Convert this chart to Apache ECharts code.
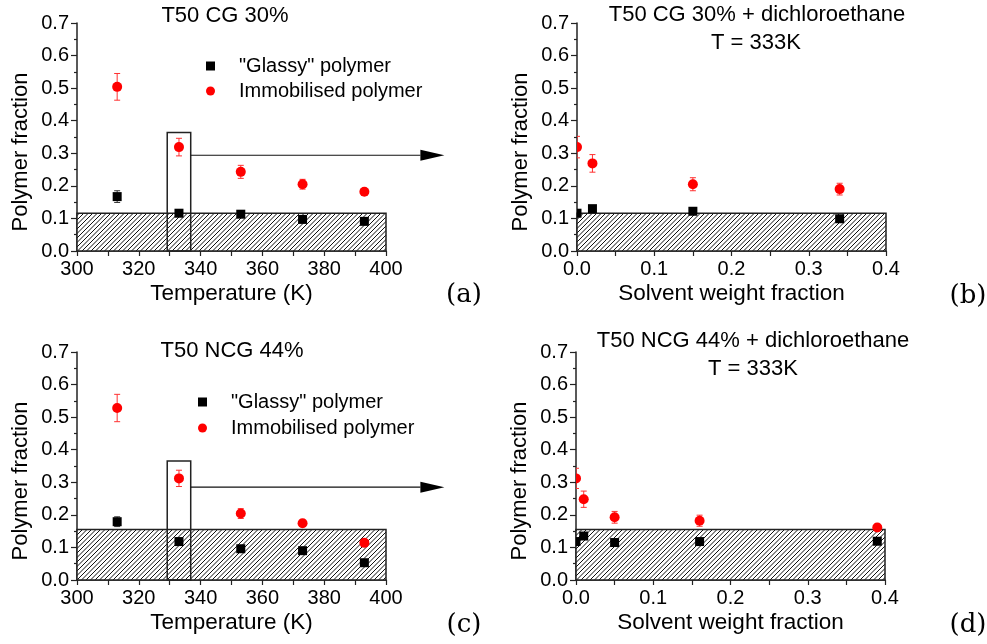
<!DOCTYPE html>
<html>
<head>
<meta charset="utf-8">
<script src="https://cdn.jsdelivr.net/npm/echarts@6/dist/echarts.min.js"></script>
<style>
  html, body { margin: 0; padding: 0; background: #fff; }
  #chart { width: 987px; height: 644px; }
</style>
</head>
<body>
<div id="chart"></div>
<script>
// panel (a): T50 CG 30% vs temperature
const tempsK = [313, 333, 353, 373, 393];
const glassyA = [0.167, 0.116, 0.113, 0.097, 0.091];
const glassyErrA = [0.018, 0.005, 0.005, 0.005, 0.005];
const immobA = [0.504, 0.319, 0.243, 0.205, 0.182];
const immobErrA = [0.041, 0.027, 0.02, 0.015, 0.01];

// panel (b): T50 CG 30% + dichloroethane
const solventB = [0, 0.02, 0.15, 0.34];
const glassyB = [0.116, 0.130, 0.122, 0.099];
const glassyErrB = [0.005, 0.008, 0.005, 0.005];
const immobB = [0.319, 0.269, 0.205, 0.190];
const immobErrB = [0.033, 0.027, 0.02, 0.018];

// panel (c): T50 NCG 44% vs temperature
const glassyC = [0.179, 0.118, 0.096, 0.090, 0.053];
const glassyErrC = [0.015, 0.005, 0.005, 0.005, 0.005];
const immobC = [0.528, 0.312, 0.204, 0.174, 0.114];
const immobErrC = [0.042, 0.025, 0.015, 0.01, 0.008];

// panel (d): T50 NCG 44% + dichloroethane
const solventD = [0, 0.01, 0.05, 0.16, 0.39];
const glassyD = [0.118, 0.135, 0.115, 0.118, 0.119];
const glassyErrD = [0.005, 0.008, 0.005, 0.005, 0.005];
const immobD = [0.312, 0.248, 0.1925, 0.182, 0.161];
const immobErrD = [0.031, 0.025, 0.018, 0.017, 0.01];

// hatched band [x0, x1, top], zoom box [x0, x1, top], arrow [x0, tip, y]
const bandA = [300, 400, 0.116];
const bandB = [0, 0.4, 0.116];
const bandC = [300, 400, 0.155];
const bandD = [0, 0.4, 0.155];
const boxA = [329.2, 336.8, 0.364];
const boxC = [329.2, 336.8, 0.365];
const arrowA = [336.8, 418.9, 0.294];
const arrowC = [336.8, 418.9, 0.285];

const tempTicks = { min: 300, max: 400, interval: 20 };
const solvTicks = { min: 0, max: 0.4, interval: 0.1 };
const fracTicks = { min: 0, max: 0.7, interval: 0.1 };

const GLASSY = '"Glassy" polymer';
const IMMOB = 'Immobilised polymer';
const FONT = '"Liberation Sans", Arial, sans-serif';

function makeHatch() {
  const c = document.createElement('canvas');
  c.width = 9; c.height = 9;
  const ctx = c.getContext('2d');
  ctx.fillStyle = '#fff';
  ctx.fillRect(0, 0, 9, 9);
  ctx.strokeStyle = '#111';
  ctx.lineWidth = 1;
  ctx.beginPath();
  for (const off of [-9, -4.5, 0, 4.5, 9]) {
    ctx.moveTo(off, 9);
    ctx.lineTo(off + 9, 0);
  }
  ctx.stroke();
  return c;
}
const hatch = { image: makeHatch(), repeat: 'repeat' };

const zip = (xs, ys, es) => xs.map((x, i) => [x, ys[i], es[i]]);

function markerItem(shape) {
  return function (params, api) {
    const x = api.value(0), y = api.value(1), e = api.value(2);
    const c = api.coord([x, y]);
    const hi = api.coord([x, y + e]);
    const lo = api.coord([x, y - e]);
    const barColor = shape === 'circle' ? '#ff3030' : '#333';
    const bar = { stroke: barColor, lineWidth: 1 };
    const children = [
      { type: 'line', shape: { x1: c[0], y1: hi[1], x2: c[0], y2: lo[1] }, style: bar },
      { type: 'line', shape: { x1: c[0] - 3, y1: hi[1], x2: c[0] + 3, y2: hi[1] }, style: bar },
      { type: 'line', shape: { x1: c[0] - 3, y1: lo[1], x2: c[0] + 3, y2: lo[1] }, style: bar }
    ];
    if (shape === 'circle') {
      children.push({ type: 'circle', shape: { cx: c[0], cy: c[1], r: 5 }, style: { fill: api.visual('color') } });
    } else {
      children.push({ type: 'rect', shape: { x: c[0] - 4.5, y: c[1] - 4.5, width: 9, height: 9 }, style: { fill: api.visual('color') } });
    }
    return { type: 'group', children: children };
  };
}

function bandItem(params, api) {
  const p0 = api.coord([api.value(0), api.value(2)]);
  const p1 = api.coord([api.value(1), 0]);
  return {
    type: 'rect',
    shape: { x: p0[0], y: p0[1], width: p1[0] - p0[0], height: p1[1] - p0[1] },
    style: { fill: hatch, stroke: '#222', lineWidth: 1.5 }
  };
}

function boxItem(params, api) {
  const p0 = api.coord([api.value(0), api.value(2)]);
  const p1 = api.coord([api.value(1), 0]);
  return {
    type: 'rect',
    shape: { x: p0[0], y: p0[1], width: p1[0] - p0[0], height: p1[1] - p0[1] },
    style: { fill: null, stroke: '#222', lineWidth: 1.5 }
  };
}

function arrowItem(params, api) {
  const p0 = api.coord([api.value(0), api.value(2)]);
  const p1 = api.coord([api.value(1), api.value(2)]);
  const headLen = 24, headH = 5.5;
  return {
    type: 'group',
    children: [
      { type: 'line', shape: { x1: p0[0], y1: p0[1], x2: p1[0] - headLen, y2: p1[1] }, style: { stroke: '#111', lineWidth: 1.2 } },
      { type: 'polygon', shape: { points: [[p1[0] - headLen, p1[1] - headH], [p1[0], p1[1]], [p1[0] - headLen, p1[1] + headH]] }, style: { fill: '#000' } }
    ]
  };
}

function xAxisOf(gi, ticks, name) {
  return {
    type: 'value', gridIndex: gi, min: ticks.min, max: ticks.max, interval: ticks.interval,
    name: name, nameLocation: 'middle', nameGap: 31,
    nameTextStyle: { fontFamily: FONT, fontSize: 22.5, color: '#000' },
    axisLine: { lineStyle: { color: '#222', width: 1.5 } },
    axisTick: { length: 5, lineStyle: { color: '#222', width: 1.2 } },
    minorTick: { show: true, splitNumber: 2, length: 5, lineStyle: { color: '#222', width: 1.2 } },
    splitLine: { show: false },
    axisLabel: {
      margin: 8, fontFamily: FONT, fontSize: 20, color: '#000',
      formatter: ticks.max < 1 ? (v) => v.toFixed(1) : (v) => String(v)
    }
  };
}

function yAxisOf(gi) {
  return {
    type: 'value', gridIndex: gi, min: fracTicks.min, max: fracTicks.max, interval: fracTicks.interval,
    axisLine: { show: true, lineStyle: { color: '#222', width: 1.5 } },
    axisTick: { show: true, length: 6, lineStyle: { color: '#222', width: 1.2 } },
    minorTick: { show: true, splitNumber: 2, length: 3, lineStyle: { color: '#222', width: 1.2 } },
    splitLine: { show: false },
    axisLabel: { margin: 8, fontFamily: FONT, fontSize: 20, color: '#000', formatter: (v) => v.toFixed(1) }
  };
}

function panelSeries(gi, xs, gl, glE, im, imE, band, box, arrow) {
  const list = [
    { type: 'custom', name: 'band', xAxisIndex: gi, yAxisIndex: gi, z: 1, clip: false,
      renderItem: bandItem, data: [band], silent: true }
  ];
  if (box) {
    list.push({ type: 'custom', name: 'box', xAxisIndex: gi, yAxisIndex: gi, z: 2, clip: false,
      renderItem: boxItem, data: [box], silent: true });
    list.push({ type: 'custom', name: 'arrow', xAxisIndex: gi, yAxisIndex: gi, z: 2, clip: false,
      renderItem: arrowItem, data: [arrow], silent: true });
  }
  list.push({ type: 'custom', name: GLASSY, xAxisIndex: gi, yAxisIndex: gi, z: 3, clip: true,
    itemStyle: { color: '#000' }, renderItem: markerItem('rect'), encode: { x: 0, y: 1 },
    data: zip(xs, gl, glE) });
  list.push({ type: 'custom', name: IMMOB, xAxisIndex: gi, yAxisIndex: gi, z: 4, clip: true,
    itemStyle: { color: '#ff0000' }, renderItem: markerItem('circle'), encode: { x: 0, y: 1 },
    data: zip(xs, im, imE) });
  return list;
}

function legendAt(left, top, gap) {
  return {
    orient: 'vertical', left: left, top: top, padding: 0, itemGap: gap,
    itemWidth: 9, itemHeight: 9, selectedMode: false,
    textStyle: { fontFamily: FONT, fontSize: 20, color: '#000', lineHeight: 22, padding: [0, 0, 0, 19] },
    data: [{ name: GLASSY, icon: 'rect' }, { name: IMMOB, icon: 'circle' }]
  };
}

const titles = [
  ['T50 CG 30%', 225, 16],
  ['T50 CG 30% + dichloroethane', 757, 15],
  ['T = 333K', 756, 43],
  ['T50 NCG 44%', 232, 351],
  ['T50 NCG 44% + dichloroethane', 753, 341],
  ['T = 333K', 753, 369]
];
const yNames = [['Polymer fraction', 21, 152], ['Polymer fraction', 521, 152],
  ['Polymer fraction', 21, 481], ['Polymer fraction', 520, 481]];
const panelTags = [['(a)', 464, 295], ['(b)', 968, 296], ['(c)', 464, 625], ['(d)', 968, 625]];

const graphic = titles.map(([t, x, y]) => ({
  type: 'text', x: x, y: y,
  style: { text: t, font: '22px ' + FONT, fill: '#000', align: 'center', verticalAlign: 'middle' }
})).concat(yNames.map(([t, x, y]) => ({
  type: 'text', x: x, y: y, rotation: Math.PI / 2,
  style: { text: t, font: '22px ' + FONT, fill: '#000', align: 'center', verticalAlign: 'middle' }
}))).concat(panelTags.map(([t, x, y]) => ({
  type: 'text', x: x, y: y,
  style: { text: t, font: '26px "DejaVu Serif", serif', fill: '#000', align: 'center', verticalAlign: 'middle' }
})));

const chart = echarts.init(document.getElementById('chart'));
chart.setOption({
  animation: false,
  backgroundColor: '#fff',
  grid: [
    { left: 77, top: 23, width: 309, height: 228, containLabel: false, outerBoundsMode: 'none' },
    { left: 577, top: 23, width: 309, height: 228, containLabel: false, outerBoundsMode: 'none' },
    { left: 77, top: 352, width: 309, height: 228, containLabel: false, outerBoundsMode: 'none' },
    { left: 576, top: 352, width: 309, height: 228, containLabel: false, outerBoundsMode: 'none' }
  ],
  xAxis: [
    xAxisOf(0, tempTicks, 'Temperature (K)'),
    xAxisOf(1, solvTicks, 'Solvent weight fraction'),
    xAxisOf(2, tempTicks, 'Temperature (K)'),
    xAxisOf(3, solvTicks, 'Solvent weight fraction')
  ],
  yAxis: [yAxisOf(0), yAxisOf(1), yAxisOf(2), yAxisOf(3)],
  legend: [legendAt(206, 55, 3), legendAt(198, 391, 4)],
  graphic: graphic,
  series: [].concat(
    panelSeries(0, tempsK, glassyA, glassyErrA, immobA, immobErrA, bandA, boxA, arrowA),
    panelSeries(1, solventB, glassyB, glassyErrB, immobB, immobErrB, bandB),
    panelSeries(2, tempsK, glassyC, glassyErrC, immobC, immobErrC, bandC, boxC, arrowC),
    panelSeries(3, solventD, glassyD, glassyErrD, immobD, immobErrD, bandD)
  )
});
</script>
</body>
</html>
